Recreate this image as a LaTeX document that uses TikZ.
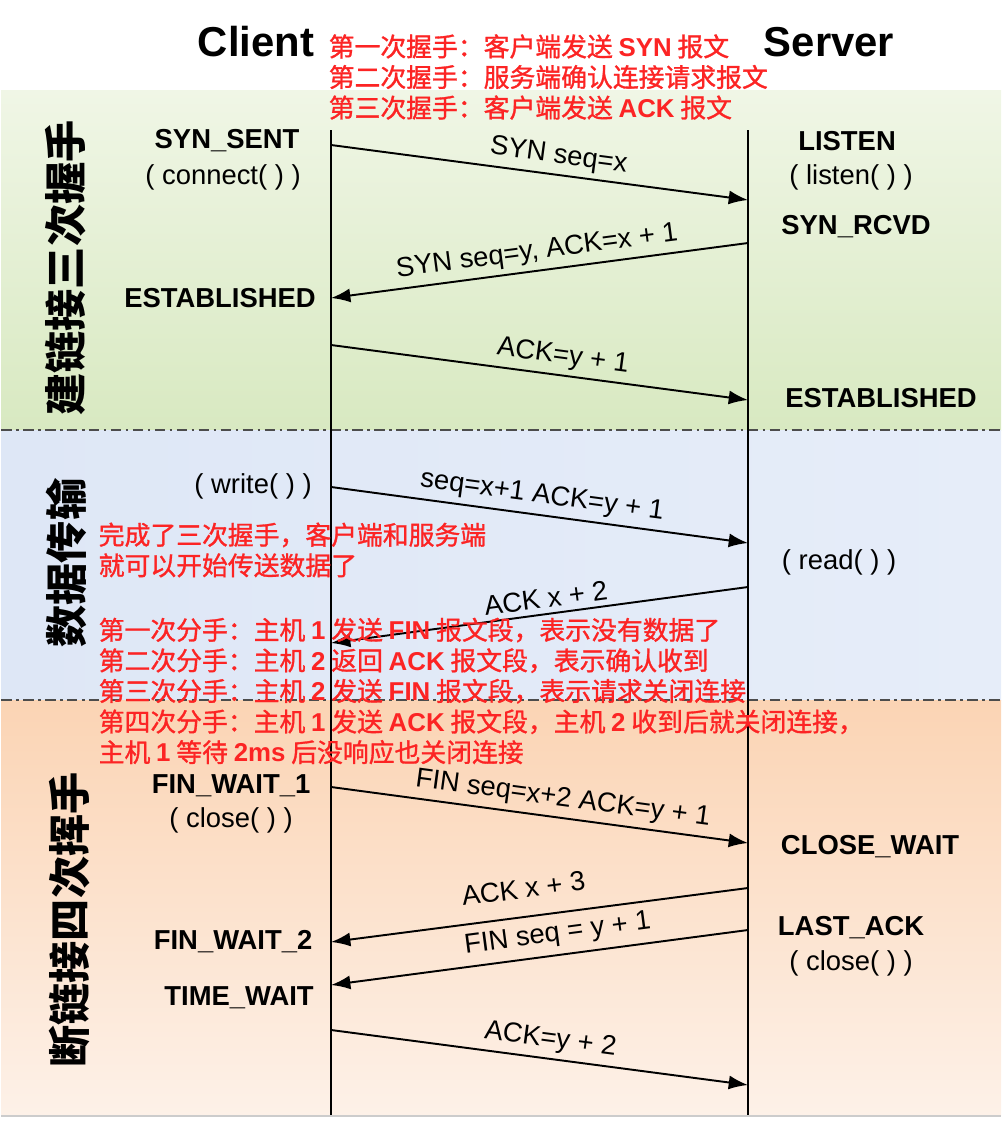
\documentclass[tikz,border=0pt]{standalone}
\usepackage{fontspec}
\setmainfont{Liberation Sans}
\newfontfamily\cjk{Noto Sans CJK SC}
\newfontfamily\cjknote[FakeBold=1.2]{Noto Sans CJK SC}
\usepackage{xcolor}
\usetikzlibrary{arrows.meta}

\definecolor{notered}{RGB}{252,36,36}
\definecolor{greentop}{RGB}{240,246,230}
\definecolor{greenbot}{RGB}{216,233,193}
\definecolor{blueleft}{RGB}{222,231,246}
\definecolor{bluemid}{RGB}{204,220,243}
\definecolor{blueright}{RGB}{230,237,249}
\definecolor{orangetop}{RGB}{251,212,180}
\definecolor{orangebot}{RGB}{253,241,232}

\newcommand{\lat}[1]{{\normalfont\bfseries #1}}

\begin{document}
\begin{tikzpicture}[x=0.02cm, y=-0.02cm,
    thick,
    head/.style={font=\fontsize{23.8pt}{26pt}\selectfont\bfseries, inner sep=0pt},
    state/.style={font=\fontsize{15.6pt}{18pt}\selectfont\bfseries, inner sep=0pt},
    call/.style={font=\fontsize{15.6pt}{18pt}\selectfont, inner sep=0pt},
    phase/.style={font=\cjk\bfseries\fontsize{24pt}{26pt}\selectfont, rotate=90, inner sep=0pt},
    note/.style={font=\cjknote\fontsize{14.7pt}{17.4pt}\selectfont, text=notered,
                 align=left, anchor=west, inner sep=0pt},
    msg/.style={-{Latex[length=11pt,width=8pt]}, line width=1.1pt},
    lbl/.style={font=\fontsize{15.6pt}{18pt}\selectfont, sloped, above=3pt, inner sep=0pt},
    lifeline/.style={line width=1.2pt},
    sep/.style={line width=1.2pt, draw=black!70,
                dash pattern=on 6pt off 2.5pt on 1.5pt off 2.5pt}]

    % background bands
    \fill[white] (0,0) rectangle (1000,1130);
    \shade[top color=greentop, bottom color=greenbot] (0,90) rectangle (1000,430);
    \shade[left color=blueleft, middle color=bluemid, right color=blueright] (0,430) rectangle (1000,700);
    \shade[top color=orangetop, bottom color=orangebot] (0,700) rectangle (1000,1115);
    \draw[black!20, line width=1pt] (0,1116) -- (1000,1116);
    \draw[sep] (0,430) -- (1000,430);
    \draw[sep] (0,700) -- (1000,700);

    % headings and phases
    \node[head] (client) at (255,42) {Client};
    \node[head] (server) at (828,42) {Server};
    \node[phase] (open) at (65,268) {建链接三次握手};
    \node[phase] (data) at (65,563) {数据传输};
    \node[phase] (close) at (68,920) {断链接四次挥手};

    % lifelines
    \coordinate (ctop) at (330,130);
    \coordinate (cbot) at (330,1115);
    \coordinate (srvtop) at (747,130);
    \coordinate (srvbot) at (747,1115);
    \draw[lifeline] (ctop) -- (cbot);
    \draw[lifeline] (srvtop) -- (srvbot);

    % client states
    \node[state] (synsent) at (226,141) {SYN\_SENT};
    \node[call] (connect) at (222,177) {( connect( ) )};
    \node[state] (estc) at (219,298) {ESTABLISHED};
    \node[call] (write) at (252,486) {( write( ) )};
    \node[state] (fw1) at (230,786) {FIN\_WAIT\_1};
    \node[call] (closec) at (230,820) {( close( ) )};
    \node[state] (fw2) at (232,942) {FIN\_WAIT\_2};
    \node[state] (tw) at (238,998) {TIME\_WAIT};

    % server states
    \node[state] (listen) at (846,141) {LISTEN};
    \node[call] (listencall) at (850,177) {( listen( ) )};
    \node[state] (synrcvd) at (855,227) {SYN\_RCVD};
    \node[state] (ests) at (880,398) {ESTABLISHED};
    \node[call] (read) at (838,562) {( read( ) )};
    \node[state] (cw) at (869,847) {CLOSE\_WAIT};
    \node[state] (lastack) at (850,928) {LAST\_ACK};
    \node[call] (closes) at (850,963) {( close( ) )};

    % message ends
    \coordinate (c1) at (330,145);  \coordinate (s1) at (747,200);
    \coordinate (s2) at (747,243);  \coordinate (c2) at (330,298);
    \coordinate (c3) at (330,345);  \coordinate (s3) at (747,400);
    \coordinate (c4) at (330,487);  \coordinate (s4) at (747,543);
    \coordinate (s5) at (747,587);  \coordinate (c5) at (330,643);
    \coordinate (c6) at (330,787);  \coordinate (s6) at (747,843);
    \coordinate (s7) at (747,888);  \coordinate (c7) at (330,942);
    \coordinate (s8) at (747,930);  \coordinate (c8) at (330,985);
    \coordinate (c9) at (330,1030); \coordinate (s9) at (747,1085);

    % messages
    \draw[msg] (c1) -- node[lbl, pos=0.54] {SYN seq=x} (s1);
    \draw[msg] (s2) -- node[lbl, pos=0.50] {SYN seq=y, ACK=x + 1} (c2);
    \draw[msg] (c3) -- node[lbl, pos=0.55] {ACK=y + 1} (s3);
    \draw[msg] (c4) -- node[lbl, pos=0.50] {seq=x+1 ACK=y + 1} (s4);
    \draw[msg] (s5) -- node[lbl, pos=0.48] {ACK x + 2} (c5);
    \draw[msg] (c6) -- node[lbl, pos=0.55] {FIN seq=x+2 ACK=y + 1} (s6);
    \draw[msg] (s7) -- node[lbl, pos=0.53, above=7pt] {ACK x + 3} (c7);
    \draw[msg] (s8) -- node[lbl, pos=0.45, above=1pt] {FIN seq = y + 1} (c8);
    \draw[msg] (c9) -- node[lbl, pos=0.52] {ACK=y + 2} (s9);

    % red notes
    \node[note] (hsnote) at (327,77)
        {第一次握手：客户端发送 \lat{SYN} 报文\\
         第二次握手：服务端确认连接请求报文\\
         第三次握手：客户端发送 \lat{ACK} 报文};
    \node[note] (datanote) at (97,550)
        {完成了三次握手，客户端和服务端\\
         就可以开始传送数据了};
    \node[note] (finnote) at (97,691)
        {第一次分手：主机 \lat{1} 发送 \lat{FIN} 报文段，表示没有数据了\\
         第二次分手：主机 \lat{2} 返回 \lat{ACK} 报文段，表示确认收到\\
         第三次分手：主机 \lat{2} 发送 \lat{FIN} 报文段，表示请求关闭连接\\
         第四次分手：主机 \lat{1} 发送 \lat{ACK} 报文段，主机 \lat{2} 收到后就关闭连接，\\
         主机 \lat{1} 等待 \lat{2ms} 后没响应也关闭连接};
\end{tikzpicture}
\end{document}
